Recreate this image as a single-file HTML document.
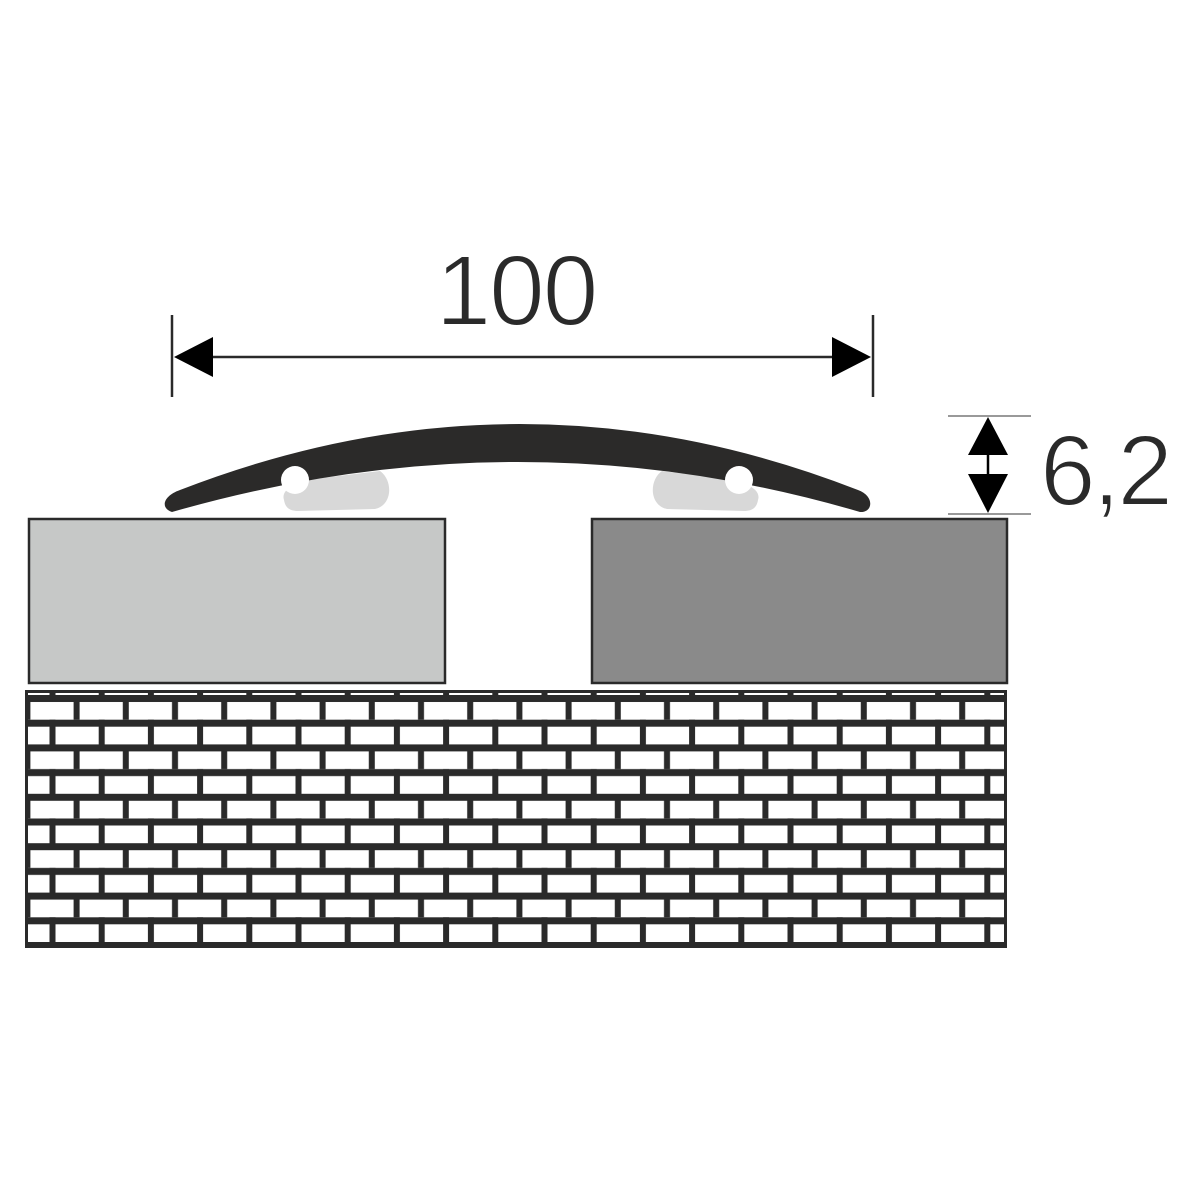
<!DOCTYPE html>
<html><head><meta charset="utf-8"><style>html,body{margin:0;padding:0;background:#fff}svg{display:block}</style></head>
<body>
<svg width="1200" height="1200" viewBox="0 0 1200 1200" xmlns="http://www.w3.org/2000/svg">
<defs>
<pattern id="brick" patternUnits="userSpaceOnUse" x="49.5" y="695" width="49.2" height="49.4">
<rect x="0" y="0" width="49.2" height="49.4" fill="#fff"/>
<rect x="0" y="0" width="49.2" height="7" fill="#2a2a2a"/>
<rect x="0" y="24.7" width="49.2" height="7" fill="#2a2a2a"/>
<rect x="24.1" y="0" width="6" height="24.7" fill="#2a2a2a"/>
<rect x="0" y="24.7" width="6" height="24.7" fill="#2a2a2a"/>
</pattern>
</defs>
<rect x="29" y="519" width="416" height="164" fill="#c6c8c7" stroke="#2a2a2a" stroke-width="2.5"/>
<rect x="592" y="519" width="415" height="164" fill="#8a8a8a" stroke="#2a2a2a" stroke-width="2.5"/>
<rect x="25" y="690" width="982" height="258" fill="url(#brick)"/>
<rect x="26.5" y="691.5" width="979" height="255" fill="none" stroke="#2a2a2a" stroke-width="3"/>
<path d="M284 500 C280 488 300 480 330 477 L380 471 C393 480 393 505 375 509 L298 511 C288 511 285 506 284 500 Z" fill="#d8d8d8"/>
<path d="M758 500 C762 488 742 480 712 477 L662 471 C649 480 649 505 667 509 L744 511 C754 511 757 506 758 500 Z" fill="#d8d8d8"/>
<path d="M172 512 C160 508 163 496 180 490 Q520 358 858 490 C875 496 873 513 860 512 Q520 412 172 512 Z" fill="#2b2a29"/>
<circle cx="295" cy="480" r="14" fill="#fff"/>
<circle cx="739" cy="480" r="14" fill="#fff"/>
<line x1="172" y1="315" x2="172" y2="397" stroke="#2a2a2a" stroke-width="2.5"/>
<line x1="873" y1="315" x2="873" y2="397" stroke="#2a2a2a" stroke-width="2.5"/>
<line x1="200" y1="357" x2="845" y2="357" stroke="#2a2a2a" stroke-width="2.5"/>
<polygon points="174,357 213,337 213,377" fill="#000"/>
<polygon points="871,357 832,337 832,377" fill="#000"/>
<text x="516" y="325" font-family="Liberation Sans, sans-serif" font-size="100" text-anchor="middle" fill="#2a2a2a" stroke="#fff" stroke-width="2" letter-spacing="-2">100</text>
<line x1="948" y1="416" x2="1031" y2="416" stroke="#999" stroke-width="2"/>
<line x1="948" y1="514" x2="1031" y2="514" stroke="#999" stroke-width="2"/>
<polygon points="988,417 968,455 1008,455" fill="#000"/>
<polygon points="988,513 968,474 1008,474" fill="#000"/>
<line x1="988" y1="450" x2="988" y2="480" stroke="#000" stroke-width="2.5"/>
<text x="1105" y="505" font-family="Liberation Sans, sans-serif" font-size="100" text-anchor="middle" fill="#2a2a2a" stroke="#fff" stroke-width="2" letter-spacing="-3">6,2</text>
</svg>
</body></html>
